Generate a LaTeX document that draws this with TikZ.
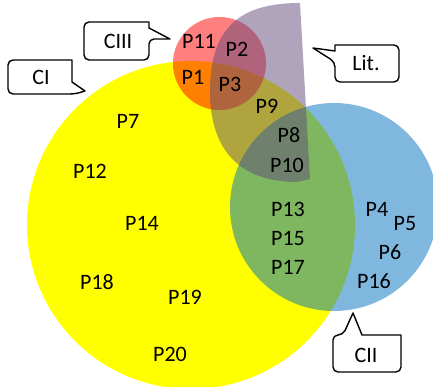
\documentclass[tikz,border=0pt]{standalone}
\usepackage{fontspec}
\setmainfont{Carlito}
\definecolor{ciyellow}{RGB}{255,255,0}
\definecolor{ciiblue}{RGB}{0,112,192}
\definecolor{ciiired}{RGB}{255,0,0}
\definecolor{litpurple}{RGB}{96,74,123}
\begin{document}
\begin{tikzpicture}[x=1pt,y=-1pt,
  lbl/.style={font=\fontsize{22}{26}\selectfont, inner sep=0pt, text height=14pt, text depth=0pt, anchor=center, text=black},
  callout/.style={draw=black, fill=white, line width=1.4pt, line join=round}]
\useasboundingbox (0,0) rectangle (433,387);
\fill[white] (0,0) rectangle (433,387);
% sets
\fill[ciyellow] (191,225) circle[radius=164];
\fill[ciiblue, fill opacity=0.5] (334,207) circle[radius=104];
\fill[ciiired, fill opacity=0.5] (219.5,63.5) circle[radius=46.5];
\fill[litpurple, fill opacity=0.5] (300,3) .. controls (237,3) and (210,30) .. (210,92)
  .. controls (210,150) and (240,182) .. (297,182) -- (310,179) -- cycle;
% labels
\node[lbl] (p11) at (199,42) {P11};
\node[lbl] (p2) at (237,50) {P2};
\node[lbl] (p1) at (193,78) {P1};
\node[lbl] (p3) at (230,85) {P3};
\node[lbl] (p9) at (267,107) {P9};
\node[lbl] (p7) at (128,122) {P7};
\node[lbl] (p8) at (289,136) {P8};
\node[lbl] (p10) at (287,166) {P10};
\node[lbl] (p12) at (90,172) {P12};
\node[lbl] (p13) at (288,209) {P13};
\node[lbl] (p14) at (142,223) {P14};
\node[lbl] (p15) at (288,238) {P15};
\node[lbl] (p17) at (288,267) {P17};
\node[lbl] (p4) at (377,209) {P4};
\node[lbl] (p5) at (405,223) {P5};
\node[lbl] (p6) at (390,252) {P6};
\node[lbl] (p16) at (374,281) {P16};
\node[lbl] (p18) at (97,282) {P18};
\node[lbl] (p19) at (185,297) {P19};
\node[lbl] (p20) at (170,354) {P20};
% callouts
\draw[callout] (116,22) [rounded corners=5] -- (84,22) -- (84,60) -- (149,60) -- (149,39) [sharp corners] -- (170,39) -- (149,28) -- (149,22) [rounded corners=5] -- cycle;
\node[lbl] (ciii) at (118,42) {CIII};
\draw[callout] (40,60) [rounded corners=5] -- (8,60) -- (8,94) -- (75,94) [sharp corners] -- (85,91) -- (72,82) -- (72,60) [rounded corners=5] -- cycle;
\node[lbl] (ci) at (41,78) {CI};
\draw[callout] (367,45) [rounded corners=5] -- (399,45) -- (399,82) -- (335,82) -- (335,62) [sharp corners] -- (313,48) -- (335,51) -- (335,45) [rounded corners=5] -- cycle;
\node[lbl] (lit) at (366,64) {Lit.};
\draw[callout] (367,372) [rounded corners=5] -- (333,372) -- (333,335) -- (343,335) [sharp corners] -- (353,313) -- (362,335) -- (401,335) [rounded corners=5] -- (401,372) -- cycle;
\node[lbl] (cii) at (366,355) {CII};
\end{tikzpicture}
\end{document}
